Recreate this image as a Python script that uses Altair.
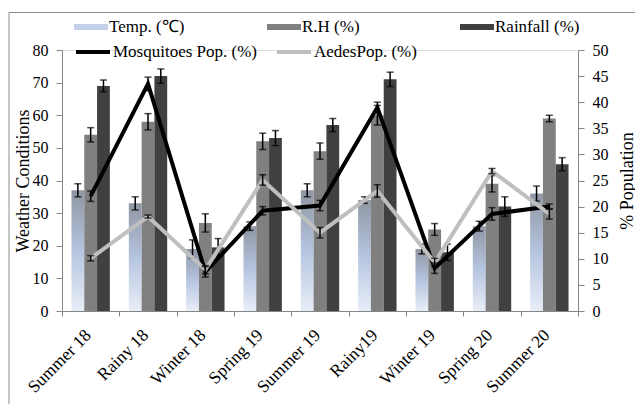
import altair as alt
import pandas as pd

categories = ["Summer 18", "Rainy 18", "Winter 18", "Spring 19", "Summer 19",
              "Rainy19", "Winter 19", "Spring 20", "Summer 20"]

temp = [37, 33, 19, 26, 37, 34, 19, 26, 36]
rh = [54, 58, 27, 52, 49, 60, 25, 39, 59]
rain = [69, 72, 19.5, 53, 57, 71, 18, 32, 45]
temp_err = [2, 2, 2.8, 1.3, 2, 1, 1.5, 1.5, 2.3]
rh_err = [2.2, 2.5, 2.8, 2.5, 2.5, 3, 1.8, 2.5, 1]
rain_err = [1.8, 2.2, 2.7, 2.3, 2, 2.2, 2.5, 3, 2]

mosq = [22, 43.5, 7.5, 19.2, 20.2, 39, 8.2, 18.6, 20]
aedes = [10.1, 18.1, 7.9, 25.1, 15, 23, 9.3, 26.8, 18.6]
mosq_err = [1, 1.3, 1, 0.8, 1, 1, 1, 1.2, 0.5]
aedes_err = [0.5, 0.3, 0.8, 1, 1, 1.2, 0.8, 0.5, 1]

series_bar = ["Temp. (℃)", "R.H (%)", "Rainfall (%)"]
series_line = ["Mosquitoes Pop. (%)", "AedesPop. (%)"]

rows = []
for s, vals, errs in zip(series_bar, [temp, rh, rain], [temp_err, rh_err, rain_err]):
    for c, v, e in zip(categories, vals, errs):
        rows.append(dict(cat=c, series=s, value=v, lo=v - e, hi=v + e))
bar_df = pd.DataFrame(rows)

rows = []
for s, vals, errs in zip(series_line, [mosq, aedes], [mosq_err, aedes_err]):
    for c, v, e in zip(categories, vals, errs):
        rows.append(dict(cat=c, series=s, value=v, lo=v - e, hi=v + e))
line_df = pd.DataFrame(rows)

FONT = "Liberation Serif"
AXC = "#868686"

x_axis = alt.Axis(title=None, labelAngle=-45, labelAlign="right", labelBaseline="top",
                  labelOffset=-9, tickBand="extent", labelFont=FONT,
                  labelFontSize=17.5, labelColor="black", domainColor=AXC, tickColor=AXC,
                  tickSize=5, labelPadding=10)
x_enc = alt.X("cat:N", sort=categories,
              scale=alt.Scale(paddingInner=0, paddingOuter=0), axis=x_axis)
xo_enc = alt.XOffset("series:N", sort=series_bar,
                     scale=alt.Scale(domain=series_bar, paddingInner=0, paddingOuter=0.74))

yl_scale = alt.Scale(domain=[0, 80], nice=False)
yl_axis = alt.Axis(title="Weather Conditions", values=list(range(0, 81, 10)), grid=False,
                   labelFont=FONT, labelFontSize=16, labelColor="black",
                   titleFont=FONT, titleFontSize=18, titleFontWeight="normal",
                   titleColor="black", domainColor=AXC, tickColor=AXC, tickSize=6,
                   labelPadding=8, titlePadding=0)
yr_scale = alt.Scale(domain=[0, 50], nice=False)
yr_axis = alt.Axis(title="% Population", orient="right", values=list(range(0, 51, 5)),
                   grid=False, labelFont=FONT, labelFontSize=16, labelColor="black",
                   titleFont=FONT, titleFontSize=18, titleFontWeight="normal",
                   titleColor="black", titleAngle=270, titleBaseline="top",
                   domainColor=AXC, tickColor=AXC,
                   tickSize=6, labelPadding=8, titlePadding=10)

temp_gradient = alt.Gradient(
    gradient="linear", x1=0, y1=0, x2=0, y2=1,
    stops=[alt.GradientStop(offset=0, color="#8f96a3"),
           alt.GradientStop(offset=0.5, color="#b5c4df"),
           alt.GradientStop(offset=1, color="#e8eef8")])

bar_base = alt.Chart(bar_df)

temp_bars = bar_base.transform_filter(alt.datum.series == series_bar[0]).mark_bar(
    color=temp_gradient).encode(
    x=x_enc, xOffset=xo_enc, y=alt.Y("value:Q", scale=yl_scale, axis=yl_axis))

other_bars = bar_base.transform_filter(alt.datum.series != series_bar[0]).mark_bar().encode(
    x=x_enc, xOffset=xo_enc, y=alt.Y("value:Q", scale=yl_scale, axis=yl_axis),
    fill=alt.Fill("series:N", sort=series_bar,
                  scale=alt.Scale(domain=series_bar, range=["#c3d0e8", "#808080", "#404040"]),
                  legend=alt.Legend(title=None, orient="none", legendX=12, legendY=-40,
                                    columns=3, columnPadding=73, gridAlign="all",
                                    symbolType="M-1,-0.18L1,-0.18L1,0.18L-1,0.18Z",
                                    symbolSize=1156, symbolStrokeWidth=0,
                                    labelFont=FONT, labelFontSize=17, labelColor="black",
                                    labelOffset=1, padding=0, labelLimit=300)))

bar_err = bar_base.mark_rule(color="black", strokeWidth=1.5).encode(
    x=x_enc, xOffset=xo_enc, y=alt.Y("lo:Q", scale=yl_scale, axis=yl_axis), y2="hi:Q")
bar_cap_lo = bar_base.mark_tick(color="black", size=7, thickness=1.5).encode(
    x=x_enc, xOffset=xo_enc, y=alt.Y("lo:Q", scale=yl_scale, axis=yl_axis))
bar_cap_hi = bar_base.mark_tick(color="black", size=7, thickness=1.5).encode(
    x=x_enc, xOffset=xo_enc, y=alt.Y("hi:Q", scale=yl_scale, axis=yl_axis))

left = alt.layer(temp_bars, other_bars, bar_err, bar_cap_lo, bar_cap_hi)

line_base = alt.Chart(line_df)
lines = line_base.mark_line(strokeWidth=4).encode(
    x=x_enc, y=alt.Y("value:Q", scale=yr_scale, axis=yr_axis),
    color=alt.Color("series:N", sort=series_line,
                    scale=alt.Scale(domain=series_line, range=["#000000", "#bfbfbf"]),
                    legend=alt.Legend(title=None, orient="none", legendX=12, legendY=-17,
                                      columns=2, columnPadding=11, gridAlign="all",
                                      symbolType="stroke", symbolSize=1156,
                                      symbolStrokeWidth=4,
                                      labelFont=FONT, labelFontSize=17, labelColor="black",
                                      labelOffset=1, padding=0, labelLimit=300)))
line_err = line_base.mark_rule(color="black", strokeWidth=1.5).encode(
    x=x_enc, y=alt.Y("lo:Q", scale=yr_scale, axis=yr_axis), y2="hi:Q")
line_cap_lo = line_base.mark_tick(color="black", size=7, thickness=1.5).encode(
    x=x_enc, y=alt.Y("lo:Q", scale=yr_scale, axis=yr_axis))
line_cap_hi = line_base.mark_tick(color="black", size=7, thickness=1.5).encode(
    x=x_enc, y=alt.Y("hi:Q", scale=yr_scale, axis=yr_axis))

right = alt.layer(lines, line_err, line_cap_lo, line_cap_hi)

frame = alt.Chart(pd.DataFrame({"f": [0]})).mark_rect(
    fillOpacity=0, stroke="#8c8c8c", strokeWidth=1).encode(
    x=alt.value(-53), x2=alt.value(516 + 80), y=alt.value(-37.5), y2=alt.value(261 + 120))

chart = alt.layer(left, right, frame).resolve_scale(y="independent").properties(
    width=516, height=261,
    padding={"left": 54, "top": 42, "right": 57, "bottom": 93},
    autosize=alt.AutoSizeParams(type="none"),
).configure_view(stroke=None).configure(background="white")

chart.save("out.html", embed_options={"renderer": "svg", "actions": False})
